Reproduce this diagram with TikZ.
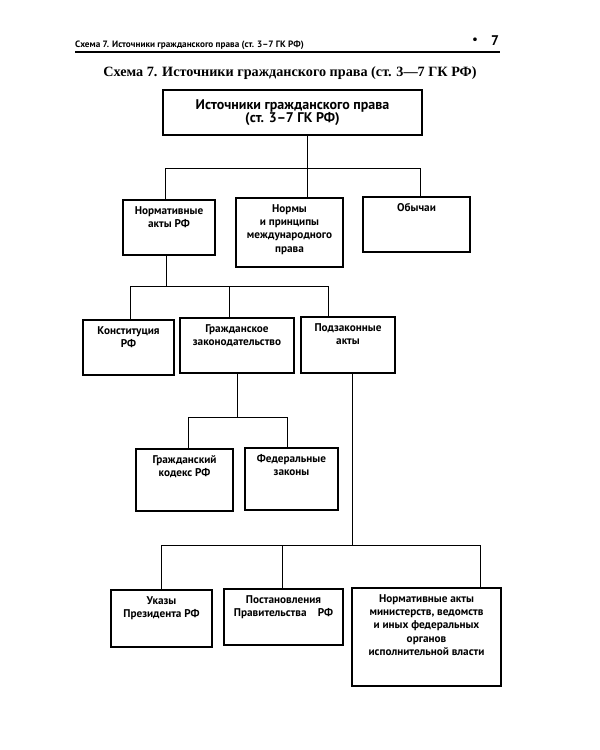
\documentclass[tikz,border=0pt]{standalone}
\usepackage{fontspec}
\setmainfont{PT Sans}
\newfontfamily\titlefont{Liberation Serif}
\begin{document}
\begin{tikzpicture}[x=1pt,y=-1pt,
  box/.style={draw, line width=1.8pt, inner sep=0pt},
  lbl/.style={anchor=north, font=\bfseries\fontsize{11.2}{13.3}\selectfont, align=center, inner sep=0pt, yshift=-7pt},
  con/.style={line width=0.8pt}]
\useasboundingbox[fill=white] (0,0) rectangle (600,750);
% header
\node[anchor=base west, inner sep=0pt, font=\bfseries\fontsize{9.2}{11}\selectfont] (hdr) at (75,47) {Схема 7. Источники гражданского права (ст. 3–7 ГК РФ)};
\node[font=\bfseries\fontsize{12}{13}\selectfont, inner sep=0pt] (dot) at (475,41) {•};
\node[font=\bfseries\fontsize{14}{15}\selectfont, inner sep=0pt] (pg) at (495,41) {7};
\draw[line width=1.1pt] (75,52) -- (500,52);
\node[font=\titlefont\bfseries\fontsize{14.2}{16}\selectfont, inner sep=0pt] (title) at (290,73) {Схема 7. Источники гражданского права (ст. 3—7 ГК РФ)};
% boxes
\node[box, minimum width=259pt, minimum height=45pt, font=\bfseries\fontsize{14}{13.5}\selectfont, align=center] (top) at (292.5,112.5) {Источники гражданского права\\(ст. 3–7 ГК РФ)};
\node[box, minimum width=92pt, minimum height=55pt, label={[lbl]north:{Нормативные\\акты РФ}}] (n1) at (169,227.5) {};
\node[box, minimum width=107pt, minimum height=69pt, label={[lbl]north:{Нормы\\и принципы\\международного\\права}}] (n2) at (289.5,232.5) {};
\node[box, minimum width=107pt, minimum height=55pt, label={[lbl]north:{Обычаи}}] (n3) at (416.5,224.5) {};
\node[box, minimum width=91pt, minimum height=55pt, label={[lbl]north:{Конституция\\РФ}}] (k) at (128.5,347.5) {};
\node[box, minimum width=114pt, minimum height=55pt, label={[lbl]north:{Гражданское\\законодательство}}] (g) at (237,345.5) {};
\node[box, minimum width=94pt, minimum height=56pt, label={[lbl]north:{Подзаконные\\акты}}] (p) at (348,345) {};
\node[box, minimum width=97pt, minimum height=62pt, label={[lbl]north:{Гражданский\\кодекс РФ}}] (gk) at (184.5,480) {};
\node[box, minimum width=93pt, minimum height=62pt, label={[lbl]north:{Федеральные\\законы}}] (fz) at (291.5,479) {};
\node[box, minimum width=101pt, minimum height=57pt, label={[lbl]north:{Указы\\Президента РФ}}] (u) at (161.5,618.5) {};
\node[box, minimum width=119pt, minimum height=56pt, label={[lbl]north:{Постановления\\Правительства\quad РФ}}] (pp) at (283.5,617) {};
\node[box, minimum width=149pt, minimum height=98pt, label={[lbl]north:{Нормативные акты\\министерств, ведомств\\и иных федеральных\\органов\\исполнительной власти}}] (na) at (426.5,637) {};
% junctions
\coordinate (j1) at (307,168); \coordinate (a1) at (165,168); \coordinate (c1) at (420,168);
\coordinate (j2) at (166,286); \coordinate (a2) at (130,286); \coordinate (m2) at (229,286); \coordinate (c2) at (328,286);
\coordinate (j3) at (237,417); \coordinate (a3) at (188,417); \coordinate (c3) at (287,417);
\coordinate (j4) at (352,545); \coordinate (a4) at (161,545); \coordinate (m4) at (282,545); \coordinate (c4) at (480,545);
% connectors
\draw[con] (top.south -| j1) -- (j1);
\draw[con] (a1) -- (c1);
\draw[con] (a1) -- (a1 |- n1.north);
\draw[con] (j1) -- (j1 |- n2.north);
\draw[con] (c1) -- (c1 |- n3.north);
\draw[con] (n1.south -| j2) -- (j2);
\draw[con] (a2) -- (c2);
\draw[con] (a2) -- (a2 |- k.north);
\draw[con] (m2) -- (m2 |- g.north);
\draw[con] (c2) -- (c2 |- p.north);
\draw[con] (g.south -| j3) -- (j3);
\draw[con] (a3) -- (c3);
\draw[con] (a3) -- (a3 |- gk.north);
\draw[con] (c3) -- (c3 |- fz.north);
\draw[con] (p.south -| j4) -- (j4);
\draw[con] (a4) -- (c4);
\draw[con] (a4) -- (a4 |- u.north);
\draw[con] (m4) -- (m4 |- pp.north);
\draw[con] (c4) -- (c4 |- na.north);
\end{tikzpicture}
\end{document}
